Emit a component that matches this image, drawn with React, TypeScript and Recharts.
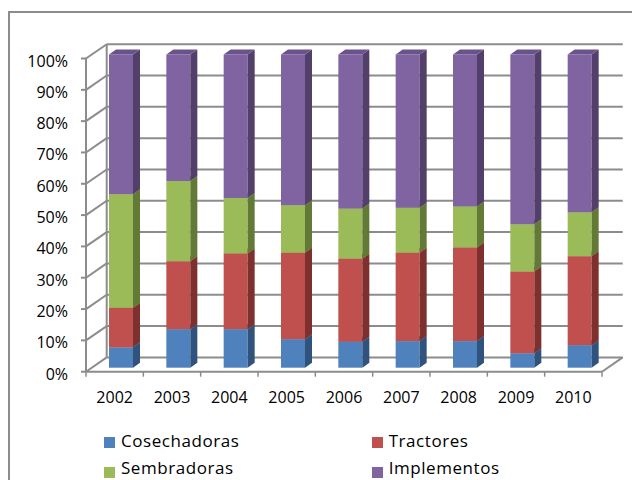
import { BarChart, Bar, XAxis, YAxis, CartesianGrid, Legend } from 'recharts'

const YEARS = ['2002', '2003', '2004', '2005', '2006', '2007', '2008', '2009', '2010']
const COSECHADORAS = [6.5, 12.3, 12.3, 9.1, 8.3, 8.5, 8.5, 4.6, 7.2]
const TRACTORES = [12.6, 21.7, 24.2, 27.6, 26.5, 28.2, 29.9, 26.1, 28.4]
const SEMBRADORAS = [36.3, 25.6, 17.7, 15.2, 16.0, 14.4, 13.1, 15.1, 14.0]
const IMPLEMENTOS = [44.6, 40.4, 45.8, 48.1, 49.2, 48.9, 48.5, 54.2, 50.4]
const Y_TICKS = [0, 0.1, 0.2, 0.3, 0.4, 0.5, 0.6, 0.7, 0.8, 0.9, 1]

const data = YEARS.map((year, i) => ({
  year,
  Cosechadoras: COSECHADORAS[i],
  Tractores: TRACTORES[i],
  Sembradoras: SEMBRADORAS[i],
  Implementos: IMPLEMENTOS[i],
}))

const SERIES = [
  { key: 'Cosechadoras', front: '#4f81bd', side: '#30537d', top: '#4470a6' },
  { key: 'Tractores', front: '#c0504d', side: '#7d302e', top: '#a84442' },
  { key: 'Sembradoras', front: '#9bbb59', side: '#637a37', top: '#87a44c' },
  { key: 'Implementos', front: '#8064a2', side: '#523f6a', top: '#6a528c' },
]

const W = 632
const H = 480
const PLOT_LEFT = 86
const PLOT_RIGHT = 602
const PLOT_TOP = 58.5
const PLOT_BOTTOM = 371.7
const X_AXIS_H = 40
const WALL_DX = 20.7
const WALL_DY = -14.3
const BAR_OX = 6
const BAR_OY = -4
const DEPTH_X = 7
const DEPTH_Y = -5
const GRID = '#8c8c8c'
const FONT = '"Open Sans", sans-serif'

const makeShape = (side: string, top: string) => (props: any) => {
  const { x, y, width, height, fill } = props
  if (!height) return <g />
  const fx = x + BAR_OX
  const fy = y + BAR_OY
  const r = fx + width
  return (
    <g>
      <rect x={fx} y={fy} width={width} height={height} fill={fill} />
      <polygon
        points={`${r},${fy} ${r + DEPTH_X},${fy + DEPTH_Y} ${r + DEPTH_X},${fy + height + DEPTH_Y} ${r},${fy + height}`}
        fill={side}
      />
      <polygon
        points={`${fx},${fy} ${r},${fy} ${r + DEPTH_X},${fy + DEPTH_Y} ${fx + DEPTH_X},${fy + DEPTH_Y}`}
        fill={top}
      />
    </g>
  )
}

const gridLine = (p: any) => {
  const { x1, x2, y1, key } = p
  const bx = x1 + WALL_DX
  const by = y1 + WALL_DY
  const floor = Math.abs(y1 - PLOT_BOTTOM) < 1
  return (
    <g key={key}>
      <line x1={x1} y1={y1} x2={bx} y2={by} stroke={GRID} strokeWidth={2} />
      <line x1={bx} y1={by} x2={x2 + WALL_DX} y2={by} stroke={GRID} strokeWidth={2} />
      {floor && <line x1={x2} y1={y1} x2={x2 + WALL_DX} y2={by} stroke={GRID} strokeWidth={2} />}
      {floor && <line x1={bx} y1={by} x2={bx} y2={PLOT_TOP + WALL_DY} stroke={GRID} strokeWidth={2} />}
    </g>
  )
}

function YTick({ x, y, payload }: any) {
  return (
    <text x={x} y={y + 8} textAnchor="end" fontSize={16} fontFamily={FONT} fill="#000">
      {`${Math.round(payload.value * 100)}%`}
    </text>
  )
}

function XTick({ x, y, payload, index }: any) {
  const band = (PLOT_RIGHT - PLOT_LEFT) / YEARS.length
  return (
    <g>
      <line x1={x - band / 2} y1={y} x2={x - band / 2} y2={y + 5} stroke={GRID} strokeWidth={1.5} />
      {index === YEARS.length - 1 && (
        <line x1={x + band / 2} y1={y} x2={x + band / 2} y2={y + 5} stroke={GRID} strokeWidth={1.5} />
      )}
      <text x={x} y={y + 31} textAnchor="middle" fontSize={16} fontFamily={FONT} fill="#000">
        {payload.value}
      </text>
    </g>
  )
}

// legend grid: two columns, two rows, in series order
const LEGEND_POS = [
  { left: 104, textTop: 4.2, boxTop: 9 },
  { left: 371.7, textTop: 4.2, boxTop: 9 },
  { left: 104, textTop: 30.9, boxTop: 38.7 },
  { left: 371.7, textTop: 30.9, boxTop: 38.7 },
]

function LegendBox({ payload }: any) {
  const colorOf = (key: string) =>
    (payload || []).find((p: any) => p.value === key || p.dataKey === key)?.color ||
    SERIES.find((s) => s.key === key)!.front
  return (
    <div style={{ position: 'relative', width: W, height: 52, fontFamily: FONT, fontSize: 17, letterSpacing: 0.55 }}>
      {SERIES.map((s, i) => {
        const pos = LEGEND_POS[i]
        return (
          <div key={s.key}>
            <div
              style={{ position: 'absolute', left: pos.left, top: pos.boxTop, width: 11, height: 11, background: colorOf(s.key) }}
            />
            <div
              style={{
                position: 'absolute',
                left: pos.left + 17,
                top: pos.textTop,
                lineHeight: '18px',
                whiteSpace: 'nowrap',
                color: '#000',
              }}
            >
              {s.key}
            </div>
          </div>
        )
      })}
    </div>
  )
}

export default function App() {
  return (
    <div style={{ position: 'absolute', left: 0, top: 0, width: W, height: H, overflow: 'hidden', background: '#fff' }}>
      <div
        style={{
          position: 'absolute',
          left: 7.5,
          top: 11,
          width: W,
          height: H,
          borderLeft: `2px solid ${GRID}`,
          borderTop: `2px solid ${GRID}`,
        }}
      />
      <div style={{ position: 'absolute', left: 0, top: 0 }}>
        <BarChart
          width={W}
          height={H}
          data={data}
          stackOffset="expand"
          margin={{ top: PLOT_TOP, right: W - PLOT_RIGHT, left: 0, bottom: H - PLOT_BOTTOM - X_AXIS_H }}
        >
          <CartesianGrid vertical={false} horizontal={gridLine} />
          <XAxis
            dataKey="year"
            height={X_AXIS_H}
            tickLine={false}
            tickSize={0}
            tickMargin={0}
            axisLine={{ stroke: GRID, strokeWidth: 2 }}
            tick={<XTick />}
            interval={0}
          />
          <YAxis
            width={PLOT_LEFT}
            domain={[0, 1]}
            ticks={Y_TICKS}
            tickSize={5}
            tickMargin={13}
            tickLine={{ stroke: GRID, strokeWidth: 2 }}
            axisLine={{ stroke: GRID, strokeWidth: 2 }}
            tick={<YTick />}
            interval={0}
          />
          {SERIES.map((s) => (
            <Bar
              key={s.key}
              dataKey={s.key}
              stackId="a"
              fill={s.front}
              barSize={24}
              shape={makeShape(s.side, s.top)}
              isAnimationActive={false}
            />
          ))}
          <Legend
            layout="horizontal"
            verticalAlign="middle"
            align="center"
            content={<LegendBox />}
            wrapperStyle={{ position: 'absolute', top: 428, left: 0, width: W, height: 52 }}
          />
        </BarChart>
      </div>
    </div>
  )
}
